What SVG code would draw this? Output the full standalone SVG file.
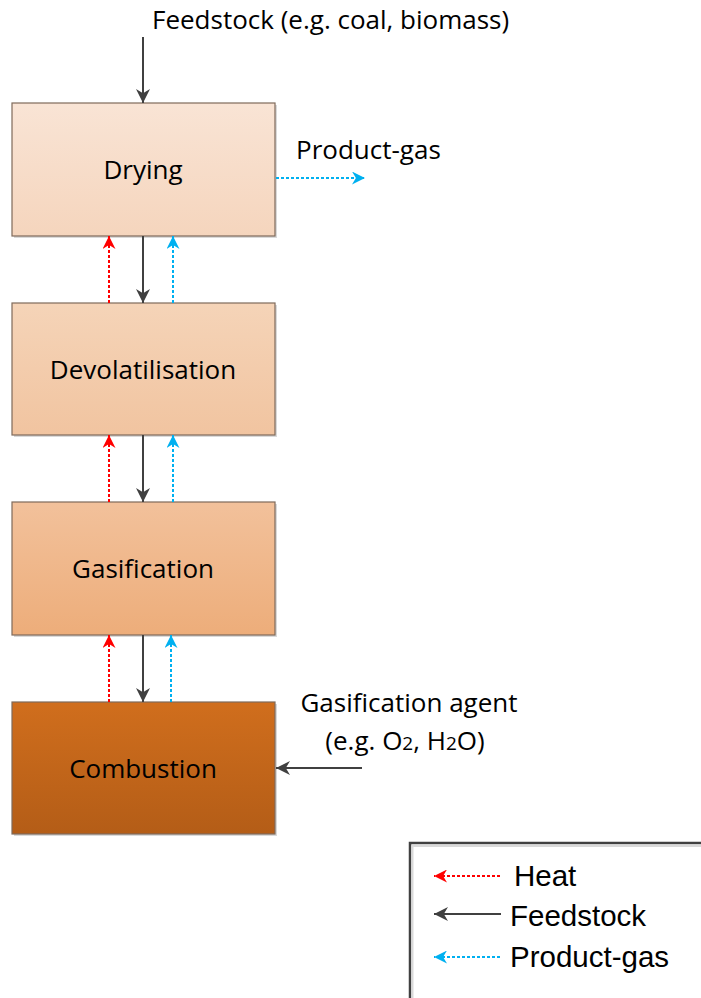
<svg xmlns="http://www.w3.org/2000/svg" width="701" height="998" viewBox="0 0 701 998">
<style>
.lbl{font-family:"Open Sans","Noto Sans",sans-serif;font-size:26px;fill:#000}
.box{stroke:#7f6a5a;stroke-width:1.2}
.leg{font-family:"Liberation Sans",Arial,sans-serif;font-size:29.5px;fill:#000}
.blk{stroke:#404040;stroke-width:2;fill:none}
.red{stroke:#ff0000;stroke-width:2;stroke-dasharray:3,2;fill:none}
.blu{stroke:#00b0f0;stroke-width:2;stroke-dasharray:3,2;fill:none}
</style>
<defs>
<linearGradient id="g1" x1="0" y1="0" x2="0" y2="1"><stop offset="0" stop-color="#f9e4d5"/><stop offset="1" stop-color="#f5d5bd"/></linearGradient>
<linearGradient id="g2" x1="0" y1="0" x2="0" y2="1"><stop offset="0" stop-color="#f5d4b8"/><stop offset="1" stop-color="#f1c4a0"/></linearGradient>
<linearGradient id="g3" x1="0" y1="0" x2="0" y2="1"><stop offset="0" stop-color="#f2c19b"/><stop offset="1" stop-color="#edad7a"/></linearGradient>
<linearGradient id="g4" x1="0" y1="0" x2="0" y2="1"><stop offset="0" stop-color="#d06e1d"/><stop offset="1" stop-color="#b45d17"/></linearGradient>
<marker id="ar" viewBox="0 0 10 10" refX="10" refY="5" markerWidth="13" markerHeight="13" markerUnits="userSpaceOnUse" orient="auto"><path d="M0,0 L10,5 L0,10 L3,5 Z" fill="#ff0000"/></marker>
<marker id="au" viewBox="0 0 10 10" refX="10" refY="5" markerWidth="13" markerHeight="13" markerUnits="userSpaceOnUse" orient="auto"><path d="M0,0 L10,5 L0,10 L3,5 Z" fill="#00b0f0"/></marker>
<marker id="abL" viewBox="0 0 10 10" refX="10" refY="5" markerWidth="14" markerHeight="14" markerUnits="userSpaceOnUse" orient="auto"><path d="M0,0 L10,5 L0,10 L3,5 Z" fill="#404040"/></marker>
</defs>
<rect width="701" height="998" fill="#fff"/>

<g id="drying">
<rect x="14" y="105" width="263" height="133" fill="#d9d9d9"/>
<rect class="box" x="12" y="103" width="263" height="133" fill="url(#g1)"/>
<text class="lbl" x="143" y="179" text-anchor="middle">Drying</text>
</g>
<g id="devolatilisation">
<rect x="14" y="305" width="263" height="132" fill="#d9d9d9"/>
<rect class="box" x="12" y="303" width="263" height="132" fill="url(#g2)"/>
<text class="lbl" x="143" y="379" text-anchor="middle">Devolatilisation</text>
</g>
<g id="gasification">
<rect x="14" y="504" width="263" height="133" fill="#d9d9d9"/>
<rect class="box" x="12" y="502" width="263" height="133" fill="url(#g3)"/>
<text class="lbl" x="143" y="578" text-anchor="middle">Gasification</text>
</g>
<g id="combustion">
<rect x="14" y="704" width="263" height="132" fill="#d9d9d9"/>
<rect class="box" x="12" y="702" width="263" height="132" fill="url(#g4)"/>
<text class="lbl" x="143" y="778" text-anchor="middle">Combustion</text>
</g>

<g id="labels">
<text class="lbl" x="152" y="29">Feedstock (e.g. coal, biomass)</text>
<text class="lbl" x="296" y="159">Product-gas</text>
<text class="lbl" x="409" y="712" text-anchor="middle">Gasification agent</text>
<text class="lbl" x="405" y="750" text-anchor="middle">(e.g. O<tspan font-size="19">2</tspan>, H<tspan font-size="19">2</tspan>O)</text>
</g>

<g id="connectors">
<line class="blk" x1="143" y1="37" x2="143" y2="103" marker-end="url(#abL)"/>
<line class="blu" x1="276" y1="178" x2="365" y2="178" marker-end="url(#au)"/>
<line class="blk" x1="362" y1="768" x2="276" y2="768" marker-end="url(#abL)"/>

<line class="blk" x1="143" y1="236" x2="143" y2="303" marker-end="url(#abL)"/>
<line class="red" x1="109" y1="303" x2="109" y2="236" marker-end="url(#ar)"/>
<line class="blu" x1="173" y1="303" x2="173" y2="236" marker-end="url(#au)"/>

<line class="blk" x1="143" y1="435" x2="143" y2="502" marker-end="url(#abL)"/>
<line class="red" x1="109" y1="502" x2="109" y2="435" marker-end="url(#ar)"/>
<line class="blu" x1="173" y1="502" x2="173" y2="435" marker-end="url(#au)"/>

<line class="blk" x1="143" y1="635" x2="143" y2="702" marker-end="url(#abL)"/>
<line class="red" x1="109" y1="702" x2="109" y2="635" marker-end="url(#ar)"/>
<line class="blu" x1="171" y1="702" x2="171" y2="635" marker-end="url(#au)"/>
</g>

<g id="legend">
<rect x="410" y="843" width="300" height="170" fill="#fff" stroke="#404040" stroke-width="2.5"/>
<line x1="412.5" y1="846" x2="412.5" y2="998" stroke="#d9d9d9" stroke-width="2"/>
<line x1="412" y1="846" x2="701" y2="846" stroke="#d9d9d9" stroke-width="2"/>
<line class="red" x1="500" y1="876" x2="434" y2="876" marker-end="url(#ar)"/>
<line class="blk" x1="501" y1="914" x2="434" y2="914" marker-end="url(#abL)"/>
<line class="blu" x1="500" y1="957" x2="434" y2="957" marker-end="url(#au)"/>
<text class="leg" x="514" y="886">Heat</text>
<text class="leg" x="510" y="926">Feedstock</text>
<text class="leg" x="510" y="967">Product-gas</text>
</g>
</svg>
